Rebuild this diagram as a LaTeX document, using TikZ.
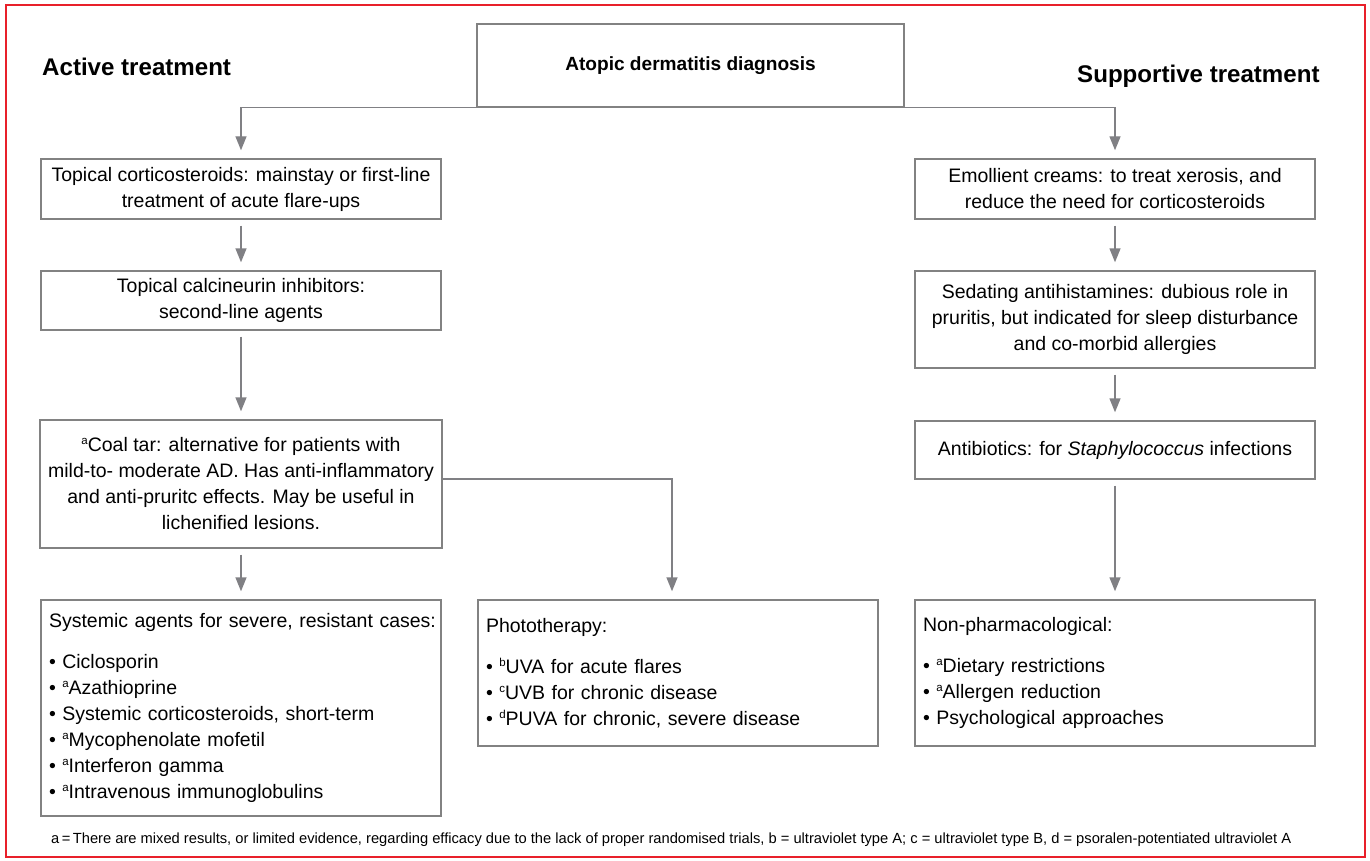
\documentclass[tikz,border=0pt]{standalone}
\usepackage{fontspec}
\setmainfont{Liberation Sans}
\usetikzlibrary{arrows.meta}
\definecolor{boxgray}{RGB}{130,130,130}
\definecolor{arrgray}{RGB}{128,128,132}
\definecolor{framered}{RGB}{232,32,42}
\newcommand{\mysup}[1]{\raisebox{7pt}{\fontsize{11.5}{11.5}\selectfont #1}}
\begin{document}
\begin{tikzpicture}[x=1pt,y=-1pt,
  box/.style={draw=boxgray, line width=1.4pt, minimum width=400pt, inner xsep=8pt, inner ysep=0pt,
              font=\fontsize{19.5}{26}\selectfont, align=center},
  lbox/.style={box, text width=384pt, align=left},
  arr/.style={draw=arrgray, line width=1.4pt, -{Triangle[length=14pt,width=11pt]}, shorten >=8pt},
  title/.style={anchor=base west, inner sep=0pt, font=\bfseries\fontsize{24.1}{29}\selectfont},
]
\useasboundingbox (0,0) rectangle (1370,861);
\draw[framered, line width=2.2pt] (6,5) rectangle (1365,857);

\node[title] (act) at (42,76) {Active treatment};
\node[title] (sup) at (1077,83) {Supportive treatment};

\node[box, minimum width=427pt, minimum height=83pt, font=\bfseries\fontsize{19.1}{24}\selectfont] (diag) at (690.5,65.5) {Atopic dermatitis diagnosis};

% left column
\node[box, minimum height=60pt] (top1) at (241,189) {Topical corticosteroids: mainstay or first-line\\treatment of acute flare-ups};
\node[box, minimum height=59pt] (calc) at (241,300.5) {Topical calcineurin inhibitors:\\second-line agents};
\node[box, minimum height=128pt] (coal) at (241,484) {\mysup{a}Coal tar: alternative for patients with\\mild-to- moderate AD. Has anti-inflammatory\\and anti-pruritc effects. May be useful in\\lichenified lesions.};
\node[lbox, minimum height=216pt] (syst) at (241,708) {\mbox{Systemic agents for severe, resistant cases:}\\[15pt]
• Ciclosporin\\
• \mysup{a}Azathioprine\\
• Systemic corticosteroids, short-term\\
• \mysup{a}Mycophenolate mofetil\\
• \mysup{a}Interferon gamma\\
• \mysup{a}Intravenous immunoglobulins};

% middle
\node[lbox, minimum height=146pt] (photo) at (678,673) {Phototherapy:\\[15pt]
• \mysup{b}UVA for acute flares\\
• \mysup{c}UVB for chronic disease\\
• \mysup{d}PUVA for chronic, severe disease};

% right column
\node[box, minimum height=60pt] (emol) at (1115,189) {Emollient creams: to treat xerosis, and\\reduce the need for corticosteroids};
\node[box, minimum height=97pt] (sed) at (1115,319.5) {Sedating antihistamines: dubious role in\\pruritis, but indicated for sleep disturbance\\and co-morbid allergies};
\node[box, minimum height=58pt] (anti) at (1115,450) {Antibiotics: for \textit{Staphylococcus} infections};
\node[lbox, minimum height=146pt] (nonph) at (1115,673) {Non-pharmacological:\\[15pt]
• \mysup{a}Dietary restrictions\\
• \mysup{a}Allergen reduction\\
• Psychological approaches};

\node[anchor=base west, inner sep=0pt, font=\fontsize{14.7}{18}\selectfont] (fn) at (51,843) {a\,=\,There are mixed results, or limited evidence, regarding efficacy due to the lack of proper randomised trials, b = ultraviolet type A; c = ultraviolet type B, d = psoralen-potentiated ultraviolet A};

% connectors
\draw[arr] (diag.south west) -| (top1.north);
\draw[arr] (diag.south east) -| (emol.north);
\draw[arr, shorten <=6pt] (top1.south) -- (calc.north);
\draw[arr, shorten <=6pt] (calc.south) -- (coal.north);
\draw[arr, shorten <=6pt] (coal.south) -- (syst.north);
\draw[arr] ([yshift=5pt]coal.east) -| ([xshift=-6pt]photo.north);
\draw[arr, shorten <=6pt] (emol.south) -- (sed.north);
\draw[arr, shorten <=6pt] (sed.south) -- (anti.north);
\draw[arr, shorten <=6pt] (anti.south) -- (nonph.north);
\end{tikzpicture}
\end{document}
